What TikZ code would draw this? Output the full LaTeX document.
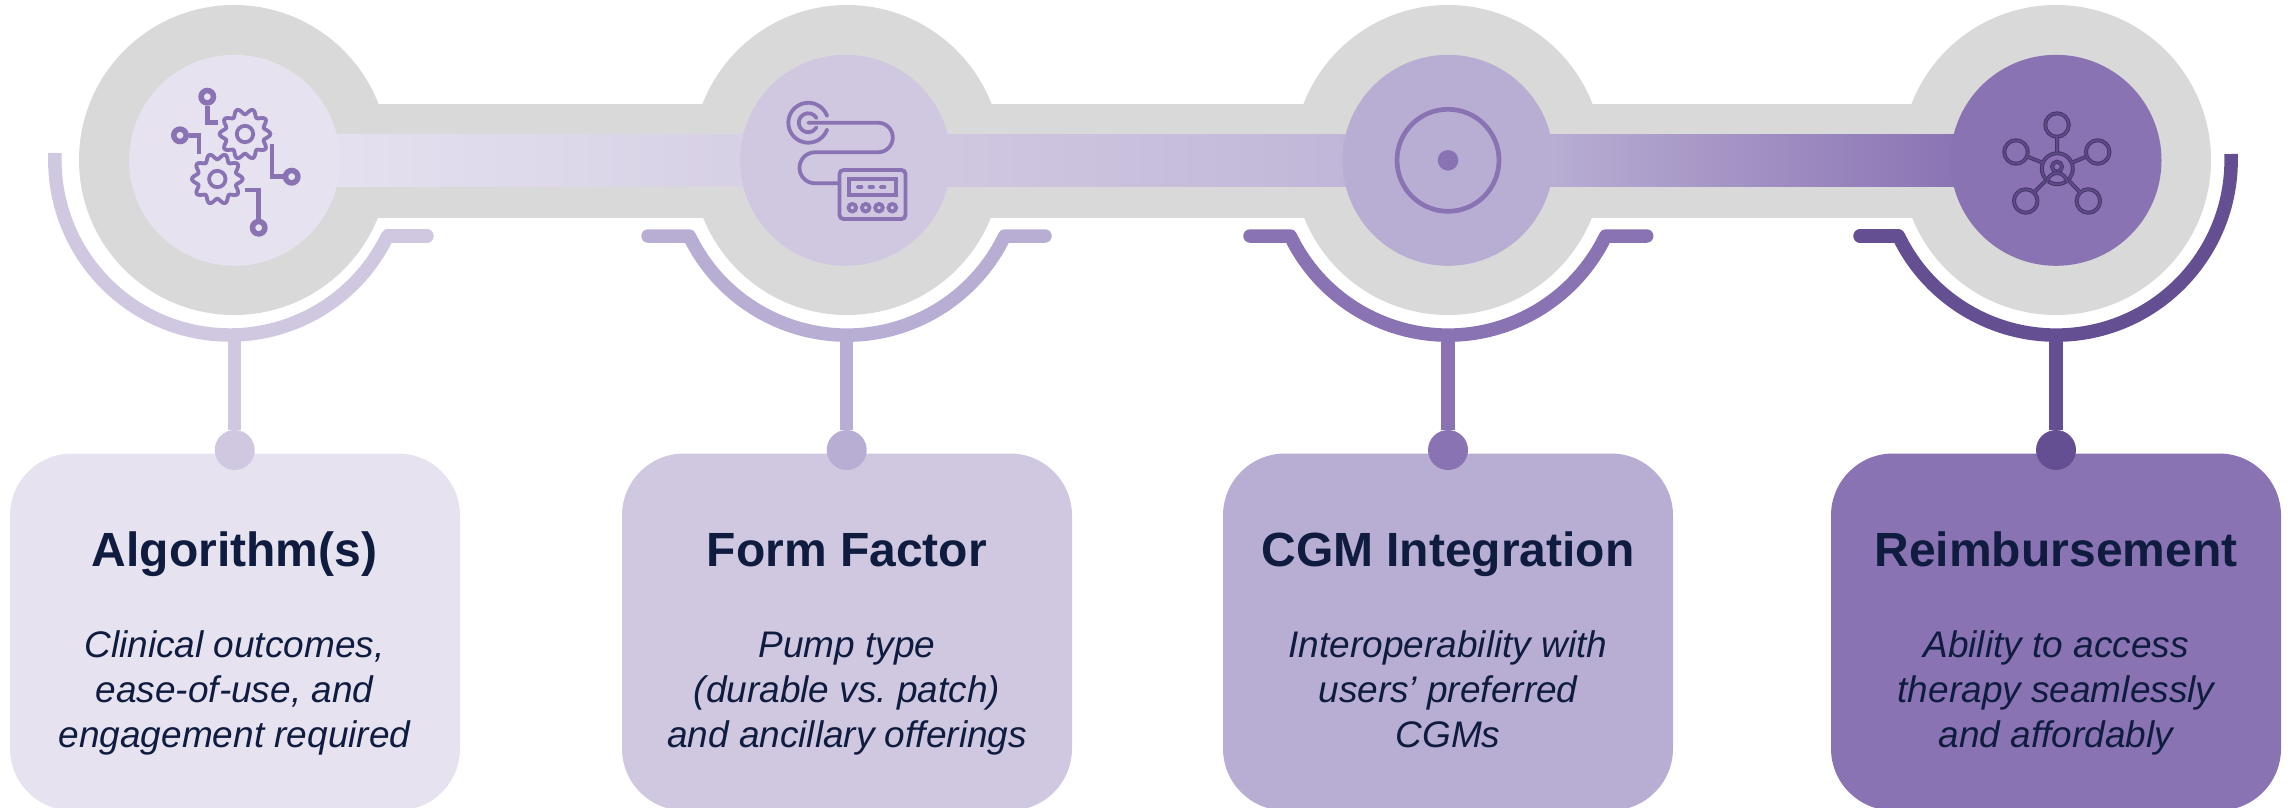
\documentclass[tikz,border=0pt]{standalone}
\usepackage{fontspec}
\setmainfont{Liberation Sans}
\frenchspacing
\usetikzlibrary{positioning}
\definecolor{tintA}{HTML}{E6E2F0}
\definecolor{tintB}{HTML}{D0C8E1}
\definecolor{tintC}{HTML}{B8ADD3}
\definecolor{tintD}{HTML}{8A73B3}
\definecolor{tintE}{HTML}{654F93}
\definecolor{hubgray}{HTML}{D9D9D9}
\definecolor{inkblue}{HTML}{0F1C3F}
\definecolor{iconline}{HTML}{8A73B3}
\definecolor{iconrim}{HTML}{453669}
\definecolor{iconcore}{HTML}{5F4B8B}
\tikzset{
  x=1pt, y=-1pt,
  outerdisc/.style={circle,fill=hubgray,minimum size=310pt,inner sep=0pt},
  innerdisc/.style={circle,minimum size=211pt,inner sep=0pt},
  knob/.style={circle,minimum size=40pt,inner sep=0pt},
  cardbox/.style={rounded corners=62pt,minimum width=450pt,minimum height=357pt,inner sep=0pt,anchor=north},
  cardtitle/.style={font=\fontsize{48}{54}\selectfont\bfseries,text=inkblue,anchor=base},
  cardtext/.style={font=\fontsize{37}{45}\selectfont\itshape,text=inkblue,align=center,anchor=base},
  bracket/.style={line width=13.5pt,line cap=round,line join=round},
  stem/.style={line width=13.5pt},
  chip/.style={line width=4.5pt,draw=iconline,line join=miter},
  pad/.style={circle,draw=iconline,line width=5.5pt,minimum size=12.4pt,inner sep=0pt},
  tube/.style={line width=3.8pt,draw=iconline,line cap=round},
  satellite/.style={circle,draw=iconrim,double=iconcore,line width=1pt,double distance=1.9pt,minimum size=23.5pt,inner sep=0pt},
  spoke/.style={draw=iconrim,double=iconcore,line width=1pt,double distance=1.9pt},
  pics/gearwheel/.style={code={
    \draw[iconline,line width=3.8pt] plot[domain=0:360,samples=121,variable=\t,smooth cycle]
      ({(22.5+2.8*cos(10*\t))*cos(\t)},{(22.5+2.8*cos(10*\t))*sin(\t)});
    \draw[iconline,line width=3.8pt] (0,0) circle (8.2);
  }},
}
\begin{document}
\begin{tikzpicture}
  \useasboundingbox (0,0) rectangle (2295,807);

  % Banda gris
  \fill[hubgray] (234,104) rectangle (2056,217.7);
  \node[outerdisc] (hubA) at (234,160) {};
  \node[outerdisc] (hubB) at (847,160) {};
  \node[outerdisc] (hubC) at (1448,160) {};
  \node[outerdisc] (hubD) at (2056,160) {};

  % Banda degradada
  \shade[left color=tintA,right color=tintB] (300,134) rectangle (950,186.7);
  \shade[left color=tintB,right color=tintC] (950,134) rectangle (1553,186.7);
  \shade[left color=tintC,right color=tintD] (1553,134) rectangle (1960,186.7);

  % Discos interiores
  \node[innerdisc,fill=tintA] (discA) at (234.5,160.3) {};
  \node[innerdisc,fill=tintB] (discB) at (845.5,160.3) {};
  \node[innerdisc,fill=tintC] (discC) at (1448,160.3) {};
  \node[innerdisc,fill=tintD] (discD) at (2056,160.3) {};

  % Puntos de anclaje
  \coordinate (baseA) at (234.7,335);
  \coordinate (baseB) at (846.7,335);
  \coordinate (baseC) at (1448,335);
  \coordinate (baseD) at (2056,335);

  % Tarjetas
  \node[cardbox,fill=tintA] (cardA) at (235,453.3) {};
  \node[cardbox,fill=tintB] (cardB) at (847,453.3) {};
  \node[cardbox,fill=tintC] (cardC) at (1448,453.3) {};
  \node[cardbox,fill=tintD] (cardD) at (2056,453.3) {};

  % Remates
  \node[knob,fill=tintB] (knobA) at (234.7,450) {};
  \node[knob,fill=tintC] (knobB) at (846.7,450) {};
  \node[knob,fill=tintD] (knobC) at (1448,450) {};
  \node[knob,fill=tintE] (knobD) at (2056,450) {};

  % Soportes
  \draw[stem,tintB] (baseA) -- (knobA);
  \draw[stem,tintC] (baseB) -- (knobB);
  \draw[stem,tintD] (baseC) -- (knobC);
  \draw[stem,tintE] (baseD) -- (knobD);

  % Arcos
  \draw[bracket,tintB,line cap=butt] (55,153) arc[start angle=182.3,end angle=25.7,radius=175];
  \draw[bracket,tintB] (387.7,236) -- (427,236);
  \draw[bracket,tintC] (648,236) -- (689.3,236) arc[start angle=154.3,end angle=25.7,radius=175] -- (1045,236);
  \draw[bracket,tintD] (1250,236) -- (1290.3,236) arc[start angle=154.3,end angle=25.7,radius=175] -- (1646.7,236);
  \draw[bracket,tintE,line cap=butt] (2231,154) arc[start angle=-2,end angle=154.3,radius=175];
  \draw[bracket,tintE] (1860,236) -- (1898.3,236);

  % Icono engranajes
  \pic at (245,134) {gearwheel};
  \pic at (217.3,179) {gearwheel};
  \node[pad] (padA) at (207.3,96.7) {};
  \node[pad] (padB) at (180,135.3) {};
  \node[pad] (padC) at (291.7,176.7) {};
  \node[pad] (padD) at (258.7,227.7) {};
  \coordinate (endA) at (218.3,122.3);
  \coordinate (endB) at (199,153.7);
  \coordinate (endC) at (272,144);
  \coordinate (endD) at (245.3,190);
  \draw[chip] (padA) |- (endA);
  \draw[chip] (padB) -| (endB);
  \draw[chip] (padC) -| (endC);
  \draw[chip] (padD) |- (endD);

  % Icono bomba
  \draw[tube] (827.1,115.9) arc[start angle=-20,end angle=-340,radius=20];
  \draw[tube] (816.5,118) arc[start angle=-30,end angle=-330,radius=9.5];
  \node[draw=iconline,line width=3.8pt,rounded corners=4pt,minimum width=66pt,minimum height=49pt,inner sep=0pt] (pump) at (872.5,194.5) {};
  \node[draw=iconline,line width=3.8pt,minimum width=47pt,minimum height=16pt,inner sep=0pt] (screen) at (872.3,187.2) {};
  \coordinate (tubeend) at (838.3,183.3);
  \draw[tube] (808.3,122.7) -- (878,122.7) arc[start angle=-90,end angle=90,radius=14.8] -- (815,152.3) arc[start angle=-90,end angle=-270,radius=15.5] -- (tubeend);
  \draw[tube] (858,187) -- (861.5,187);
  \draw[tube] (869.5,187) -- (873,187);
  \draw[tube] (881,187) -- (884.5,187);
  \foreach \bx in {852.3,865.7,879,892.3}
    \draw[iconline,line width=3.8pt] (\bx,207.7) circle (3.8);

  % Icono objetivo
  \draw[iconline,line width=4.7pt] (1448,160.3) circle (51);
  \fill[iconline] (1448,160.3) circle (10.3);

  % Icono red
  \node[satellite,minimum size=31pt] (core) at (2057.3,168.7) {};
  \node[satellite] (satA) at (2057,125) {};
  \node[satellite] (satB) at (2016,152) {};
  \node[satellite] (satC) at (2097.7,152) {};
  \node[satellite] (satD) at (2025.7,201) {};
  \node[satellite] (satE) at (2088.3,201) {};
  \draw[spoke] (core) -- (satA);
  \draw[spoke] (core) -- (satB);
  \draw[spoke] (core) -- (satC);
  \draw[spoke] (core) -- (satD);
  \draw[spoke] (core) -- (satE);
  \node[satellite,minimum size=10pt] (head) at (2057,166.7) {};
  \draw[spoke] (2047,183) arc[start angle=180,end angle=360,radius=10];

  % Textos
  \node[cardtitle] (titleA) at (234.5,566.7) {Algorithm(s)};
  \node[cardtitle] (titleB) at (847,566.7) {Form Factor};
  \node[cardtitle] (titleC) at (1448,566.7) {CGM Integration};
  \node[cardtitle] (titleD) at (2056,566.7) {Reimbursement};
  \node[cardtext] (textA) at (234.5,747.3) {Clinical outcomes,\\ease-of-use, and\\engagement required};
  \node[cardtext] (textB) at (847,747.3) {Pump type\\(durable vs. patch)\\and ancillary offerings};
  \node[cardtext] (textC) at (1448,747.3) {Interoperability with\\users’ preferred\\CGMs};
  \node[cardtext] (textD) at (2056,747.3) {Ability to access\\therapy seamlessly\\and affordably};
\end{tikzpicture}
\end{document}
